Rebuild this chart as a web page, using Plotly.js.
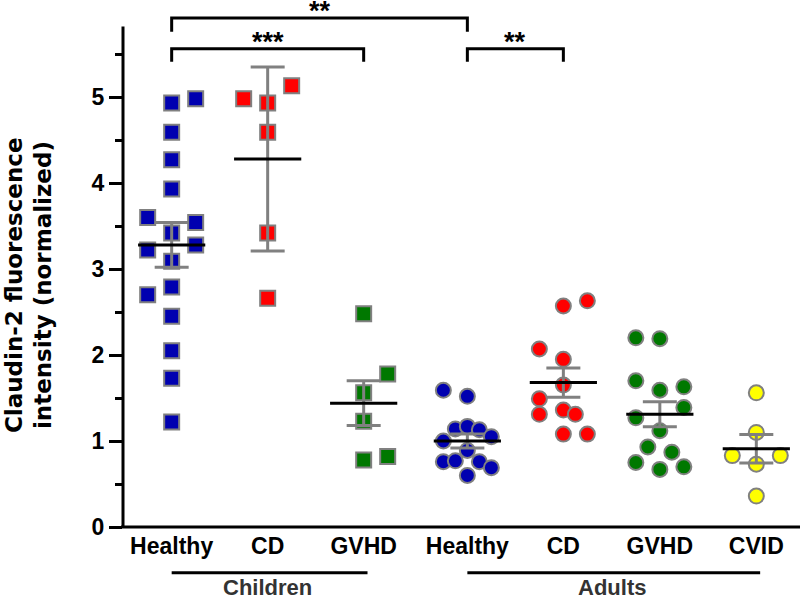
<!DOCTYPE html>
<html>
<head>
<meta charset="utf-8">
<script src="https://cdn.plot.ly/plotly-3.0.1.min.js"></script>
<style>
  html, body { margin: 0; padding: 0; background: #fff; }
  #chart { width: 800px; height: 602px; }
</style>
</head>
<body>
<div id="chart"></div>
<script>
// groups along the x axis
var groups = ['Healthy', 'CD', 'GVHD', 'Healthy', 'CD', 'GVHD', 'CVID'];
var cohorts = ['Children', 'Adults'];

// single values per group
var childHealthy = [4.93, 4.98, 4.59, 4.27, 3.93, 3.60, 3.54, 3.42, 3.22, 3.28, 3.09, 2.70, 2.79, 2.45, 2.05, 1.73, 1.22];
var childCD      = [4.98, 5.13, 4.93, 4.59, 3.42, 2.66];
var childGVHD    = [2.48, 1.78, 1.56, 1.23, 0.78, 0.82];
var adultHealthy = [1.59, 1.52, 1.14, 1.17, 1.13, 1.00, 1.05, 0.89, 0.76, 0.77, 0.76, 0.69, 0.60];
var adultCD      = [2.57, 2.63, 2.07, 1.95, 1.65, 1.49, 1.31, 1.36, 1.31, 1.08, 1.08];
var adultGVHD    = [2.20, 2.19, 1.70, 1.59, 1.63, 1.39, 1.27, 1.12, 0.93, 0.87, 0.75, 0.67, 0.70];
var adultCVID    = [1.56, 1.10, 0.83, 0.83, 0.73, 0.36];

// mean and error bar per group
var means = [3.28, 4.28, 1.44, 1.00, 1.68, 1.31, 0.91];
var errs  = [0.26, 1.07, 0.26, 0.08, 0.17, 0.145, 0.165];

// horizontal scatter of the dots (fraction of group spacing)
var jit = [
  [0, 0.25, 0, 0, 0, -0.25, 0.25, 0, -0.25, 0.25, 0, -0.25, 0, 0, 0, 0, 0],
  [-0.25, 0.25, 0, 0, 0, 0],
  [0, 0.25, 0, 0, 0, 0.25],
  [-0.25, 0, -0.125, 0, 0.125, -0.25, 0.25, 0, -0.25, -0.125, 0.125, 0.25, 0],
  [0, 0.25, -0.25, 0, 0, -0.25, -0.25, 0, 0.125, 0, 0.25],
  [-0.25, 0, -0.25, 0, 0.25, 0.25, -0.25, 0, -0.125, 0.125, -0.25, 0, 0.25],
  [0, 0, -0.25, 0.25, 0, 0]
];

var xpos = [0, 1, 2, 3.08, 4.08, 5.085, 6.09];
var values = [childHealthy, childCD, childGVHD, adultHealthy, adultCD, adultGVHD, adultCVID];
var colors = ['#0000b0', '#ff0000', '#007800', '#0000b0', '#ff0000', '#007800', '#ffff00'];
var symbols = ['square', 'square', 'square', 'circle', 'circle', 'circle', 'circle'];

var data = [];
values.forEach(function(vals, i) {
  data.push({
    type: 'scatter',
    mode: 'markers',
    x: vals.map(function(v, k) { return xpos[i] + jit[i][k]; }),
    y: vals,
    marker: {
      symbol: symbols[i],
      size: 15,
      color: colors[i],
      line: {color: '#808080', width: 2}
    },
    cliponaxis: false,
    hoverinfo: 'skip'
  });
});

// mean bars with error
data.push({
  type: 'scatter',
  mode: 'markers',
  x: xpos,
  y: means,
  marker: {symbol: 'line-ew', size: 48, color: 'black', line: {color: 'black', width: 3}},
  error_y: {type: 'data', array: errs, visible: true, color: '#808080', thickness: 3, width: 17},
  cliponaxis: false,
  hoverinfo: 'skip'
});

// significance brackets
var sig = [
  {a: 0, b: 3, top: 5.92, leg: 5.76, label: '**'},
  {a: 0, b: 2, top: 5.56, leg: 5.41, label: '***'},
  {a: 3, b: 4, top: 5.56, leg: 5.41, label: '**'}
];

var shapes = [];
var annotations = [];
var bold = {family: 'Liberation Sans, Arial, sans-serif', weight: 'bold', color: 'black'};

sig.forEach(function(s) {
  var x0 = xpos[s.a], x1 = xpos[s.b];
  shapes.push({
    type: 'path', xref: 'x', yref: 'y',
    path: 'M' + x0 + ',' + s.leg + ' L' + x0 + ',' + s.top + ' L' + x1 + ',' + s.top + ' L' + x1 + ',' + s.leg,
    line: {color: 'black', width: 3}
  });
  annotations.push({
    x: (x0 + x1) / 2, y: s.top, xref: 'x', yref: 'y',
    text: s.label, showarrow: false, yanchor: 'top', yshift: 23, borderpad: 0,
    font: Object.assign({}, bold, {size: 27})
  });
});

// axis lines drawn by hand (y line stops short of the brackets)
shapes.push({type: 'line', xref: 'paper', yref: 'y', x0: 0, x1: 0, y0: 0, y1: 5.82,
  line: {color: 'black', width: 3}});
shapes.push({type: 'line', xref: 'paper', yref: 'paper', x0: -0.003, x1: 1, y0: 0, y1: 0,
  line: {color: 'black', width: 3}});

// cohort underlines + labels
var spans = [[0, 2], [3, 6]];
spans.forEach(function(sp, i) {
  shapes.push({type: 'line', xref: 'x', yref: 'paper', x0: xpos[sp[0]], x1: xpos[sp[1]] + 0.04,
    y0: -0.0867, y1: -0.0867, line: {color: 'black', width: 3}});
  annotations.push({
    x: (xpos[sp[0]] + xpos[sp[1]]) / 2, y: -0.1157, xref: 'x', yref: 'paper',
    text: cohorts[i], showarrow: false, yanchor: 'middle', borderpad: 0,
    font: Object.assign({}, bold, {size: 22, color: '#333333'})
  });
});

// y title, two lines
var ytitle = ['Claudin-2 fluorescence', 'intensity (normalized)'];
var titleShift = [-109, -80];
ytitle.forEach(function(t, i) {
  annotations.push({
    x: 0, y: 0.459, xref: 'paper', yref: 'paper', xanchor: 'center', yanchor: 'middle',
    xshift: titleShift[i], text: t, textangle: -90, showarrow: false, borderpad: 0,
    font: {family: 'DejaVu Sans, sans-serif', size: 23, weight: 'bold', color: 'black'}
  });
});

var layout = {
  width: 800,
  height: 602,
  margin: {l: 123, r: 0, t: 0, b: 75},
  paper_bgcolor: 'white',
  plot_bgcolor: 'white',
  showlegend: false,
  xaxis: {
    range: [-0.507, 6.545],
    tickmode: 'array',
    tickvals: xpos,
    ticktext: groups,
    ticks: '',
    ticklabelstandoff: 3,
    showline: false,
    showgrid: false,
    zeroline: false,
    tickfont: Object.assign({}, bold, {size: 23})
  },
  yaxis: {
    range: [0, 6.128],
    tickmode: 'array',
    tickvals: [0, 1, 2, 3, 4, 5],
    ticks: 'outside',
    ticklen: 13,
    tickwidth: 3,
    tickcolor: 'black',
    showline: false,
    showgrid: false,
    zeroline: false,
    tickfont: Object.assign({}, bold, {size: 23}),
    minor: {
      tickmode: 'array',
      tickvals: [0.5, 1.5, 2.5, 3.5, 4.5, 5.5],
      ticks: 'outside',
      ticklen: 7,
      tickwidth: 3,
      tickcolor: 'black'
    }
  },
  shapes: shapes,
  annotations: annotations
};

Plotly.newPlot('chart', data, layout, {displayModeBar: false, staticPlot: true});
</script>
</body>
</html>
